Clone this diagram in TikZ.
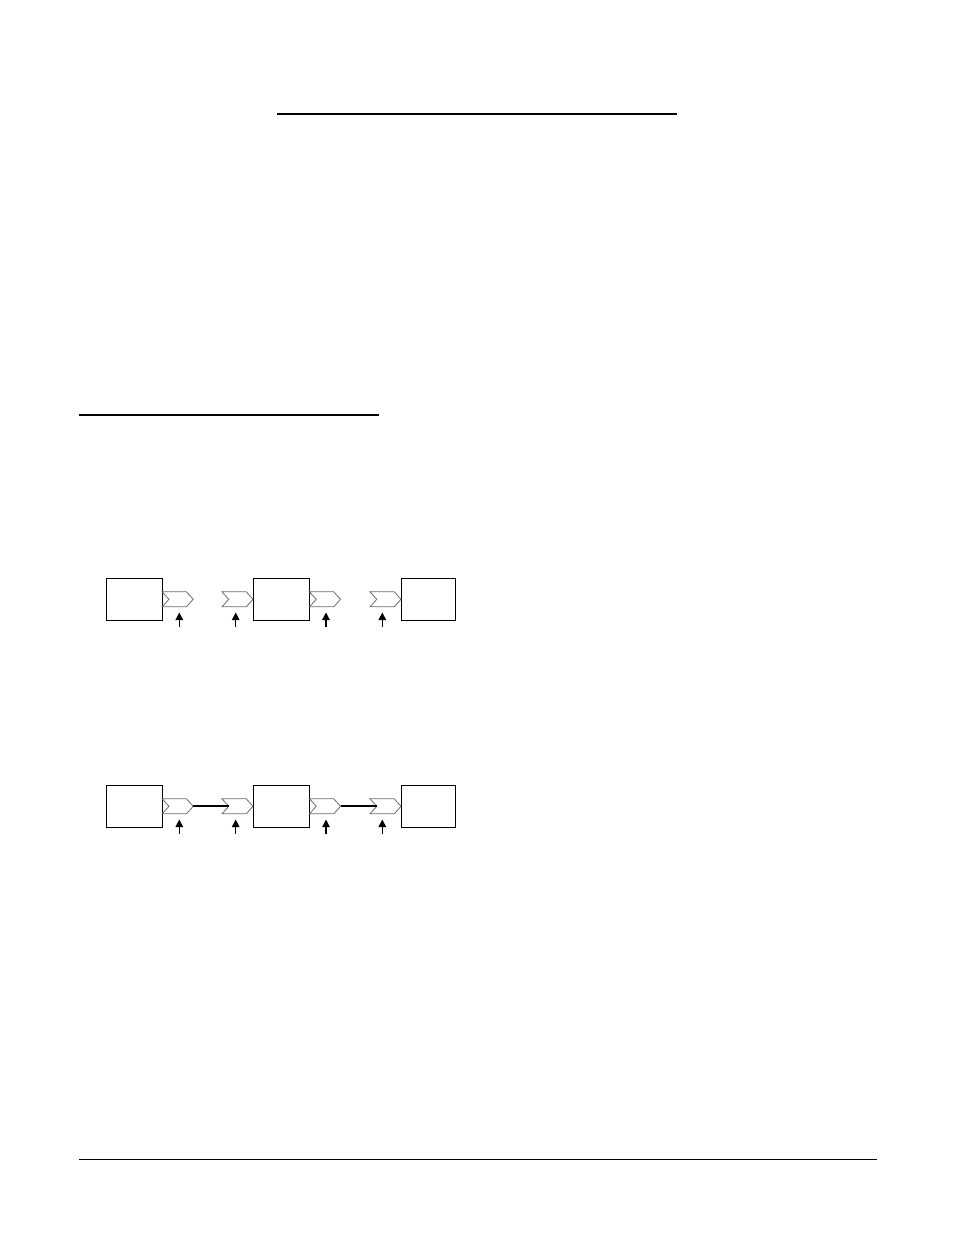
\documentclass[tikz,border=0pt]{standalone}
\usetikzlibrary{shapes.symbols,arrows.meta}
\begin{document}
\begin{tikzpicture}[x=1pt,y=-1pt,
  blockbox/.style={draw=black,line width=0.9pt,minimum width=56pt,minimum height=42pt,inner sep=0pt,outer sep=0pt},
  chev/.style={signal,signal to=east,signal from=west,signal pointer angle=96,draw=gray!85!black,line width=0.8pt,minimum width=31pt,minimum height=15pt,inner sep=0pt,outer sep=0pt},
  uparrow/.style={line width=1.1pt,-{Triangle[width=7.5pt,length=7.5pt]}},
  link/.style={line width=2pt},
  rule/.style={line width=2.4pt}]
\useasboundingbox (0,0) rectangle (954,1235);
% rules
\coordinate (t1) at (277,114); \coordinate (t2) at (677,114);
\draw[rule] (t1) -- (t2);
\coordinate (s1) at (79,415); \coordinate (s2) at (379,415);
\draw[rule] (s1) -- (s2);
\coordinate (f1) at (79,1159.3); \coordinate (f2) at (876.5,1159.3);
\draw[line width=1pt] (f1) -- (f2);
% diagram 1
\node[blockbox,minimum width=55.6pt] (a1) at (134.5,599) {};
\node[blockbox] (a2) at (281.3,599) {};
\node[blockbox,minimum width=54pt] (a3) at (428.7,599) {};
\node[chev] (ac1) at (177.7,599.3) {};
\node[chev] (ac2) at (237.5,599.3) {};
\node[chev] (ac3) at (325,599.3) {};
\node[chev] (ac4) at (385.5,599.3) {};
\foreach \x/\n in {179.3/1,235.7/2,326/3,382.3/4}{
  \coordinate (ap\n) at (\x,627);
  \coordinate (aq\n) at (\x,612.5);
  \draw[uparrow] (ap\n) -- (aq\n);
}
% diagram 2
\node[blockbox,minimum width=55.6pt] (b1) at (134.5,806) {};
\node[blockbox] (b2) at (281.3,806) {};
\node[blockbox,minimum width=54pt] (b3) at (428.7,806) {};
\node[chev] (bc1) at (177.7,806.3) {};
\node[chev] (bc2) at (237.5,806.3) {};
\node[chev] (bc3) at (325,806.3) {};
\node[chev] (bc4) at (385.5,806.3) {};
\draw[link] (bc1.east) -- (bc2.west);
\draw[link] (bc3.east) -- (bc4.west);
\foreach \x/\n in {179.3/1,235.7/2,326/3,382.3/4}{
  \coordinate (bp\n) at (\x,834);
  \coordinate (bq\n) at (\x,819.5);
  \draw[uparrow] (bp\n) -- (bq\n);
}
\end{tikzpicture}
\end{document}
